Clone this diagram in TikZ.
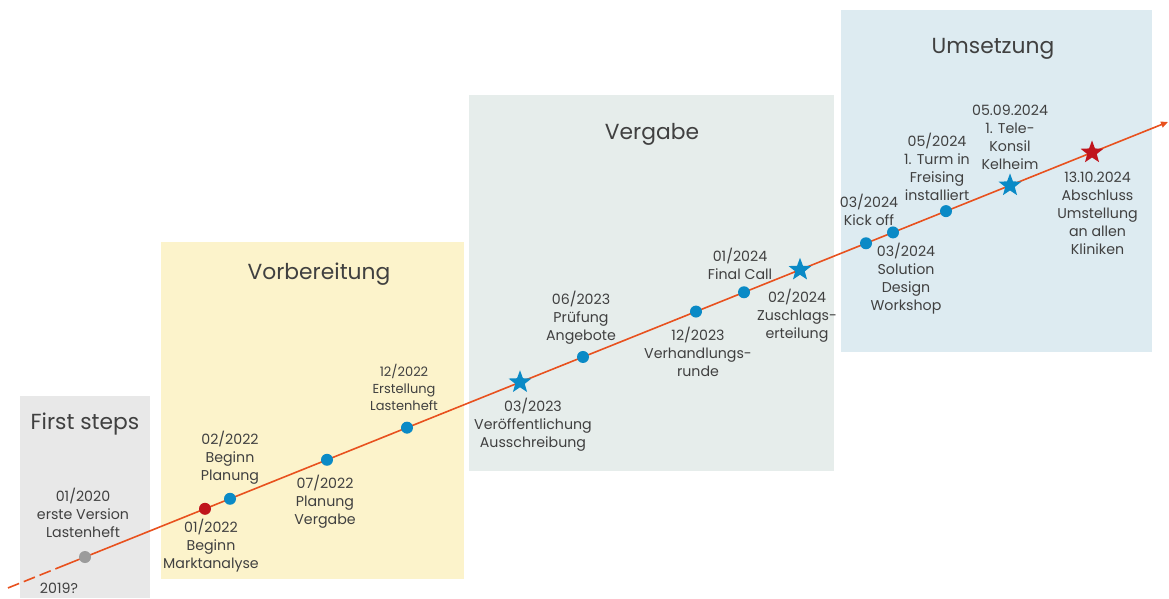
\documentclass[tikz,border=0pt]{standalone}
\usepackage{fontspec}
\setmainfont{Poppins}
\usetikzlibrary{shapes.geometric,arrows.meta}
\definecolor{boxgray}{HTML}{E8E8E8}
\definecolor{boxyellow}{HTML}{FCF3CB}
\definecolor{boxgreen}{HTML}{E6EDEB}
\definecolor{boxblue}{HTML}{DDEBF1}
\definecolor{tline}{HTML}{E8511E}
\definecolor{dotblue}{HTML}{0A8AC6}
\definecolor{dotred}{HTML}{C0141C}
\definecolor{dotgray}{HTML}{9B9B9B}
\definecolor{txt}{HTML}{404040}
\tikzset{
  phasetitle/.style={text=txt,font=\fontsize{21.8}{26}\selectfont,inner sep=0},
  lbl/.style={text=txt,font=\fontsize{14.2}{18}\selectfont,align=center,inner sep=0},
  lblsmall/.style={text=txt,font=\fontsize{13}{17}\selectfont,align=center,inner sep=0},
  dot/.style={circle,minimum size=12pt,inner sep=0,fill=dotblue},
  reddot/.style={dot,fill=dotred},
  graydot/.style={dot,fill=dotgray},
  starmark/.style={star,star points=5,star point ratio=2.4,minimum size=24pt,inner sep=0,fill=dotblue},
  redstar/.style={starmark,fill=dotred},
}
\newcommand{\Ly}[1]{{557-0.4017*(#1-85)}}
\begin{document}
\begin{tikzpicture}[x=1pt,y=-1pt]
\useasboundingbox (0,0) rectangle (1169,598);
% phase boxes
\fill[boxgray] (20,396) rectangle (150,598);
\fill[boxyellow] (161,242) rectangle (464,579);
\fill[boxgreen] (469,95) rectangle (834,471);
\fill[boxblue] (841,10) rectangle (1152,352);
\node[phasetitle] (t1) at (85,424) {First steps};
\node[phasetitle] (t2) at (319,274) {Vorbereitung};
\node[phasetitle] (t3) at (652,134) {Vergabe};
\node[phasetitle] (t4) at (993,49) {Umsetzung};
% timeline
\coordinate (s0) at (8,\Ly{8});
\coordinate (s1) at (58,\Ly{58});
\coordinate (e) at (1168,\Ly{1168});
\draw[tline,line width=1.6pt,dash pattern=on 12pt off 5pt] (s0) -- (s1);
\draw[tline,line width=1.6pt,-{Triangle[length=7pt,width=6pt]}] (s1) -- (e);
% markers
\node[graydot] (m1) at (85,\Ly{85}) {};
\node[reddot] (m2) at (205,\Ly{205}) {};
\node[dot] (m3) at (230,\Ly{230}) {};
\node[dot] (m4) at (327,\Ly{327}) {};
\node[dot] (m5) at (407,\Ly{407}) {};
\node[starmark] (m6) at (520,\Ly{520}) {};
\node[dot] (m7) at (583,\Ly{583}) {};
\node[dot] (m8) at (696,\Ly{696}) {};
\node[dot] (m9) at (744,\Ly{744}) {};
\node[starmark] (m10) at (800,\Ly{800}) {};
\node[dot] (m11) at (866,\Ly{866}) {};
\node[dot] (m12) at (893,\Ly{893}) {};
\node[dot] (m13) at (946,\Ly{946}) {};
\node[starmark] (m14) at (1010,\Ly{1010}) {};
\node[redstar] (m15) at (1092,\Ly{1092}) {};
% labels
\node[text=txt,font=\fontsize{14.2}{18}\selectfont,inner sep=0] (l0) at (59,588) {2019?};
\node[lbl] (l1) at (83,513) {01/2020\\erste Version\\Lastenheft};
\node[lbl] (l2) at (211,546) {01/2022\\Beginn\\Marktanalyse};
\node[lbl] (l3) at (230,458) {02/2022\\Beginn\\Planung};
\node[lbl] (l4) at (325,502) {07/2022\\Planung\\Vergabe};
\node[lblsmall] (l5) at (404,387) {12/2022\\Erstellung\\Lastenheft};
\node[lbl] (l6) at (533,425) {03/2023\\Veröffentlichung\\Ausschreibung};
\node[lbl] (l7) at (581,318) {06/2023\\Prüfung\\Angebote};
\node[lbl] (l8) at (698,352) {12/2023\\Verhandlungs-\\runde};
\node[lbl] (l9) at (740,263.5) {01/2024\\Final Call};
\node[lbl] (l10) at (797,316) {02/2024\\Zuschlags-\\erteilung};
\node[lbl] (l11) at (869,210) {03/2024\\Kick off};
\node[lbl] (l12) at (906,279) {03/2024\\Solution\\Design\\Workshop};
\node[lbl] (l13) at (937,166.5) {05/2024\\1. Turm in\\Freising\\installiert};
\node[lbl] (l14) at (1010,137.5) {05.09.2024\\1. Tele-\\Konsil\\Kelheim};
\node[lbl] (l15) at (1097.5,213.6) {13.10.2024\\Abschluss\\Umstellung\\an allen\\Kliniken};
\end{tikzpicture}
\end{document}
